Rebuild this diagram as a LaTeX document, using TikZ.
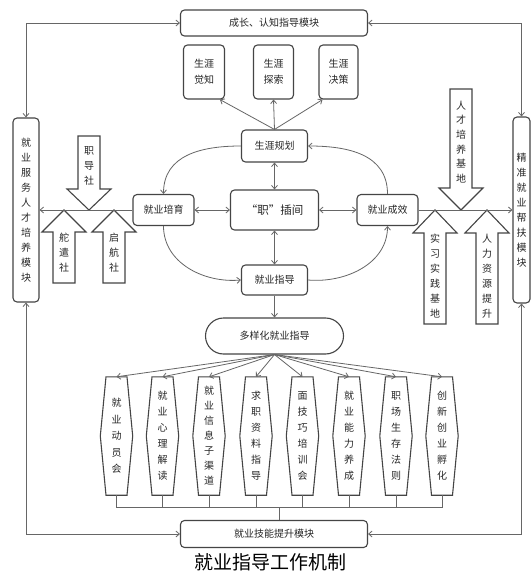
\documentclass[tikz,border=0pt]{standalone}
\usepackage{fontspec}
\newfontfamily\cjk{Noto Sans CJK SC}
\usetikzlibrary{arrows.meta,calc}
\definecolor{boxc}{HTML}{454545}
\definecolor{linc}{HTML}{666666}
\definecolor{txtc}{HTML}{262626}
\newcommand\hexbox[4]{%
  \node[hexn,font=\cjk\fontsize{10}{#3}\selectfont] (#1) at (#2,-436) {#4};
  \draw[blk] ($(#1.north)+(-10.5,0)$) -- ($(#1.north)+(10.5,0)$) -- (#1.east)
    -- ($(#1.south)+(10.5,0)$) -- ($(#1.south)+(-10.5,0)$) -- (#1.west) -- cycle;
}
% block arrow pointing down: cx, ytop, ybase, ytip
\newcommand\blkdown[4]{%
  \draw[blk] (#1-11,#2) -- (#1+11,#2) -- (#1+11,#3) -- (#1+22,#3) -- (#1,#4)
    -- (#1-22,#3) -- (#1-11,#3) -- cycle;
}
% block arrow pointing up: cx, ytip, ybase, ybottom
\newcommand\blkup[4]{%
  \draw[blk] (#1,#2) -- (#1+22,#3) -- (#1+11,#3) -- (#1+11,#4) -- (#1-11,#4)
    -- (#1-11,#3) -- (#1-22,#3) -- cycle;
}
\begin{document}
\begin{tikzpicture}[x=1pt,y=1pt,
  >={Straight Barb[length=3.5pt,width=6pt]},
  box/.style={draw=boxc, line width=1.1pt, rounded corners=4pt, inner sep=0pt,
    align=center, text=txtc, font=\cjk\fontsize{10}{15}\selectfont},
  hexn/.style={inner sep=0pt, minimum width=32, minimum height=118, align=center, text=txtc},
  blk/.style={draw=boxc, line width=1.1pt, line join=miter},
  btxt/.style={inner sep=0pt, align=center, text=txtc, font=\cjk\fontsize{10}{15}\selectfont},
  conn/.style={draw=linc, line width=0.8pt}]
\useasboundingbox (0,0) rectangle (531,-572);
\fill[white] (0,0) rectangle (531,-572);

% modules
\node[box, minimum width=187, minimum height=26] (top) at (274,-23) {成长、认知指导模块};
\node[box, minimum width=187, minimum height=27] (bot) at (274,-534) {就业技能提升模块};
\node[box, minimum width=26, minimum height=184] (lm) at (26,-210) {就\\业\\服\\务\\人\\才\\培\\养\\模\\块};
\node[box, minimum width=17, minimum height=186] (rm) at (521.5,-210) {精\\准\\就\\业\\帮\\扶\\模\\块};

% career boxes
\node[box, minimum width=41, minimum height=54, font=\cjk\fontsize{10}{16}\selectfont] (gz) at (204,-72) {生涯\\觉知};
\node[box, minimum width=40, minimum height=54, font=\cjk\fontsize{10}{16}\selectfont] (ts) at (273.5,-72) {生涯\\探索};
\node[box, minimum width=39, minimum height=54, font=\cjk\fontsize{10}{16}\selectfont] (jc) at (338.5,-72) {生涯\\决策};

% central ring
\node[box, minimum width=66, minimum height=32] (gh) at (274.5,-146) {生涯规划};
\node[box, minimum width=88, minimum height=40, font=\cjk\fontsize{11.5}{14}\selectfont] (zc) at (274.5,-210) {“职”插间};
\node[box, minimum width=61, minimum height=31] (py) at (163.5,-210) {就业培育};
\node[box, minimum width=61, minimum height=31] (cx) at (387.5,-210) {就业成效};
\node[box, minimum width=66, minimum height=30] (zd) at (274.5,-280) {就业指导};
\node[box, minimum width=138, minimum height=36, rounded corners=18pt] (dy) at (274.5,-336) {多样化就业指导};

% hexagons
\hexbox{h1}{116.5}{16.5}{就\\业\\动\\员\\会}
\hexbox{h2}{162.5}{16}{就\\业\\心\\理\\解\\读}
\hexbox{h3}{209}{15}{就\\业\\信\\息\\子\\渠\\道}
\hexbox{h4}{256}{16}{求\\职\\资\\料\\指\\导}
\hexbox{h5}{302.5}{16}{面\\技\\巧\\培\\训\\会}
\hexbox{h6}{349}{16}{就\\业\\能\\力\\养\\成}
\hexbox{h7}{396}{16}{职\\场\\生\\存\\法\\则}
\hexbox{h8}{442}{16}{创\\新\\创\\业\\孵\\化}

% left block arrows
\blkdown{89}{-136}{-189}{-210}
\node[btxt] (zds) at (89,-166) {职\\导\\社};
\blkup{64}{-210}{-232}{-283}
\node[btxt] (dds) at (64,-253) {舵\\遣\\社};
\blkup{114}{-210}{-232}{-283}
\node[btxt] (qhs) at (114,-253) {启\\航\\社};

% right block arrows
\blkdown{461}{-89}{-188}{-210}
\node[btxt, font=\cjk\fontsize{10}{14.6}\selectfont] (rcjd) at (461,-142) {人\\才\\培\\养\\基\\地};
\blkup{435}{-210}{-233}{-324}
\node[btxt] (sxjd) at (435,-276) {实\\习\\实\\践\\基\\地};
\blkup{487}{-210}{-233}{-324}
\node[btxt] (rlzy) at (487,-276) {人\\力\\资\\源\\提\\升};

% outer loop connectors
\draw[conn,<->] (top.west) -| (lm.north);
\draw[conn,<->] (top.east) -| (rm.north);
\draw[conn,<->] (bot.west) -| (lm.south);
\draw[conn,<->] (bot.east) -| (rm.south);

% career fan
\draw[conn,->] (gh.north) -- (gz.-60);
\draw[conn,->] (gh.north) -- (ts.south);
\draw[conn,->] (gh.north) -- (jc.-120);

% center crosses
\draw[conn,<->] (gh.south) -- (zc.north);
\draw[conn,<->] (zc.south) -- (zd.north);
\draw[conn,<->] (py.east) -- (zc.west);
\draw[conn,<->] (zc.east) -- (cx.west);

% ring curves
\draw[conn,->] (gh.west) to[out=180,in=90,looseness=1.1] (py.north);
\draw[conn,->] (py.south) to[out=-90,in=185,looseness=1.0] (zd.west);
\draw[conn,->] (zd.east) to[out=-5,in=-90,looseness=1.0] (cx.south);
\draw[conn,->] (cx.north) to[out=90,in=0,looseness=1.1] (gh.east);

% side lines
\draw[conn,->] (py.west) -- (lm.east);
\draw[conn,->] (cx.east) -- (rm.west);

% guidance
\draw[conn,->] (zd.south) -- (dy.north);
\foreach \h in {h1,h2,h3,h4,h5,h6,h7,h8} \draw[conn,->] (dy.south) -- (\h.north);
\draw[conn] (h1.south) -- ++(0,-12) -| (h8.south);
\foreach \h in {h2,h3,h4,h5,h6,h7} \draw[conn] (\h.south) -- ++(0,-12);
\coordinate (brk) at (279,-507);
\draw[conn] (brk) -- (brk |- bot.north);

% caption
\node[inner sep=0pt, font=\cjk\fontsize{19}{19}\selectfont, text=black] (cap) at (270,-562) {就业指导工作机制};
\end{tikzpicture}
\end{document}
